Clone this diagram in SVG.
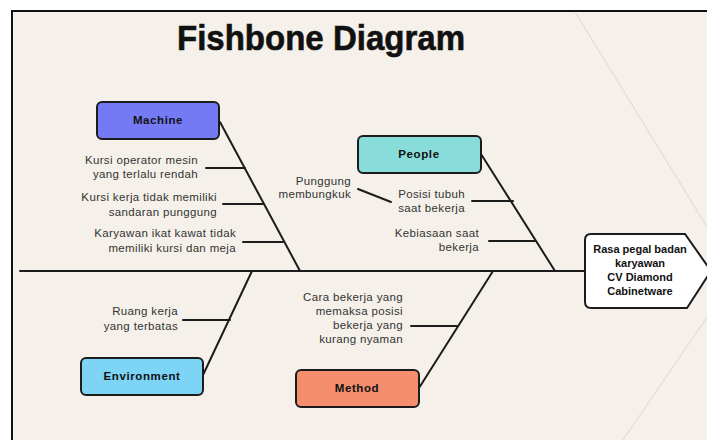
<svg xmlns="http://www.w3.org/2000/svg" width="707" height="440" viewBox="0 0 707 440">
<style>
.bone{stroke:#1c1c1c;stroke-width:2;fill:none;stroke-linecap:round}
.box{stroke:#1c1c1c;stroke-width:2}
.lbl{font-family:"Liberation Sans",Arial,sans-serif;font-weight:bold;font-size:11.5px;letter-spacing:0.6px;fill:#111;text-anchor:middle}
.hd{font-family:"Liberation Sans",Arial,sans-serif;font-weight:bold;font-size:11px;fill:#111;text-anchor:middle}
.t{font-family:"Liberation Sans",Arial,sans-serif;font-size:11.5px;letter-spacing:0.35px;fill:#333;text-anchor:end}
.deco{stroke:#e2dccf;stroke-width:1.2;fill:none}
</style>
<rect x="0" y="0" width="707" height="440" fill="#ffffff"/>
<rect x="12" y="11" width="720" height="460" fill="#f5f1ea" stroke="#111" stroke-width="2"/>
<line class="deco" x1="575" y1="12" x2="707" y2="227"/>
<line class="deco" x1="623" y1="440" x2="707" y2="317"/>
<text x="321" y="50" font-family="'Liberation Sans',Arial,sans-serif" font-weight="bold" font-size="35" fill="#111" text-anchor="middle" textLength="288" lengthAdjust="spacingAndGlyphs" stroke="#111" stroke-width="0.6">Fishbone Diagram</text>
<g id="connectors">
<line class="bone" x1="20" y1="271" x2="585" y2="271"/>
<line class="bone" x1="220" y1="122" x2="300" y2="271"/>
<line class="bone" x1="481" y1="154" x2="555" y2="271"/>
<line class="bone" x1="203" y1="375" x2="252" y2="271"/>
<line class="bone" x1="419" y1="388" x2="493" y2="271"/>
<line class="bone" x1="206" y1="168" x2="245" y2="168"/>
<line class="bone" x1="223" y1="204" x2="263" y2="204"/>
<line class="bone" x1="243" y1="242" x2="283" y2="242"/>
<line class="bone" x1="472" y1="201" x2="513" y2="201"/>
<line class="bone" x1="489" y1="241" x2="535" y2="241"/>
<line class="bone" x1="358" y1="189" x2="391" y2="202"/>
<line class="bone" x1="183" y1="320" x2="230" y2="320"/>
<line class="bone" x1="411" y1="326" x2="457" y2="326"/>
</g>
<g id="machine">
<rect class="box" x="97" y="102" width="122" height="37" rx="5" fill="#7479f4"/>
<text class="lbl" x="158" y="124">Machine</text>
</g>
<g id="people">
<rect class="box" x="358" y="136" width="123" height="37" rx="5" fill="#88dcda"/>
<text class="lbl" x="419" y="158">People</text>
</g>
<g id="environment">
<rect class="box" x="81" y="358" width="122" height="37" rx="5" fill="#7dd4f5"/>
<text class="lbl" x="142" y="380">Environment</text>
</g>
<g id="method">
<rect class="box" x="296" y="370" width="123" height="37" rx="5" fill="#f48e6e"/>
<text class="lbl" x="357" y="392">Method</text>
</g>
<g id="effect">
<path class="box" d="M591,234 L685,234 L711,271 L687,308 L591,308 Q585,308 585,302 L585,240 Q585,234 591,234 Z" fill="#ffffff"/>
<text class="hd" x="640" y="253">Rasa pegal badan</text>
<text class="hd" x="640" y="267">karyawan</text>
<text class="hd" x="640" y="281">CV Diamond</text>
<text class="hd" x="640" y="295">Cabinetware</text>
</g>
<g id="machine-causes">
<text class="t" x="198" y="164">Kursi operator mesin</text>
<text class="t" x="198" y="178">yang terlalu rendah</text>
<text class="t" x="217" y="201">Kursi kerja tidak memiliki</text>
<text class="t" x="217" y="216">sandaran punggung</text>
<text class="t" x="236" y="237">Karyawan ikat kawat tidak</text>
<text class="t" x="236" y="252">memiliki kursi dan meja</text>
</g>
<g id="people-causes">
<text class="t" x="351" y="185">Punggung</text>
<text class="t" x="351" y="198">membungkuk</text>
<text class="t" x="465" y="198">Posisi tubuh</text>
<text class="t" x="465" y="212">saat bekerja</text>
<text class="t" x="479" y="237">Kebiasaan saat</text>
<text class="t" x="479" y="251">bekerja</text>
</g>
<g id="environment-causes">
<text class="t" x="178" y="315">Ruang kerja</text>
<text class="t" x="178" y="330">yang terbatas</text>
</g>
<g id="method-causes">
<text class="t" x="403" y="301">Cara bekerja yang</text>
<text class="t" x="403" y="315">memaksa posisi</text>
<text class="t" x="403" y="329">bekerja yang</text>
<text class="t" x="403" y="343">kurang nyaman</text>
</g>
</svg>
